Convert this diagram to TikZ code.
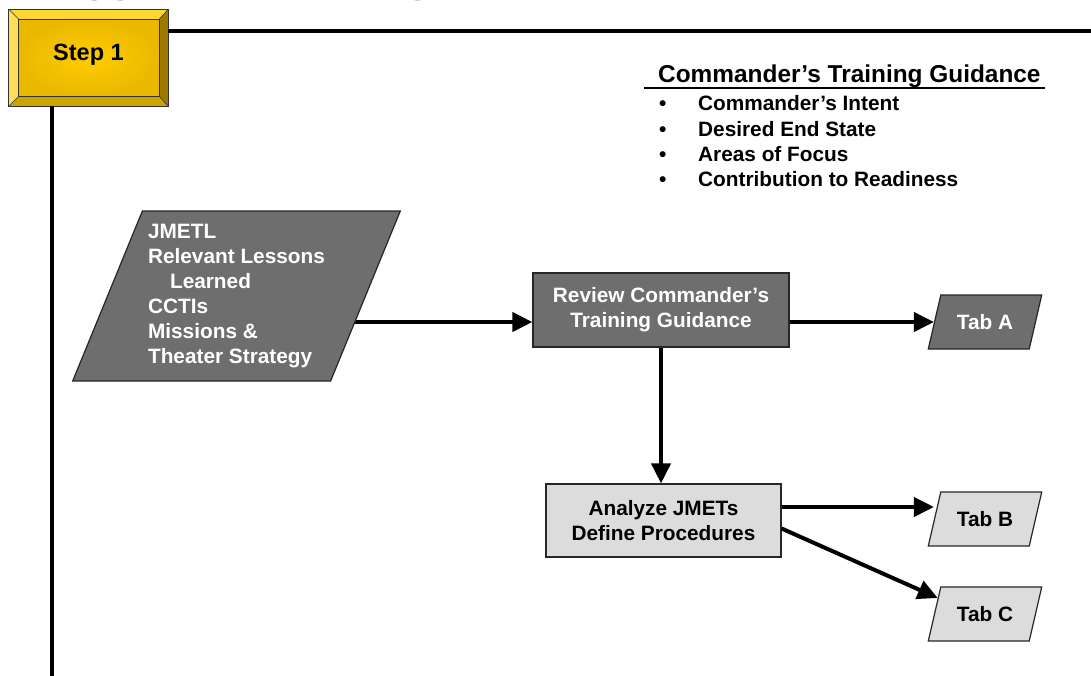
\documentclass[tikz,border=0pt]{standalone}
\usepackage{fontspec}
\setmainfont{Liberation Sans}
\newfontfamily\hdrfont{Liberation Serif}
\usetikzlibrary{shapes.geometric,arrows.meta,calc}
\pgfdeclarelayer{bg}
\pgfsetlayers{bg,main}

\definecolor{darkfill}{HTML}{6E6E6E}
\definecolor{lightfill}{HTML}{DCDCDC}
\definecolor{bevtop}{HTML}{FFD735}
\definecolor{bevleft}{HTML}{FFDF5A}
\definecolor{bevright}{HTML}{9C7A00}
\definecolor{bevbottom}{HTML}{CDA300}
\definecolor{facein}{HTML}{FFCC00}
\definecolor{faceout}{HTML}{EBB800}

\begin{document}
\begin{tikzpicture}[x=1pt,y=-1pt,
  txt/.style={font=\bfseries\fontsize{20.8}{25}\selectfont},
  procbox/.style={rectangle, draw=black!85, line width=1.2pt, inner sep=0pt,
    align=center, txt},
  databox/.style={trapezium, trapezium stretches=true, draw=black!85,
    line width=1.2pt, inner sep=0pt, txt},
  tabbox/.style={databox, minimum width=114pt, minimum height=54pt,
    trapezium left angle=62.5, trapezium right angle=117.5},
  flow/.style={line width=4pt, -{Triangle[length=20pt,width=19pt]}},
  rule/.style={line width=4pt}]

\useasboundingbox (0,0) rectangle (1091,675);
\clip (0,0) rectangle (1091,675);

% heading, cut by the top edge
\node[anchor=base west, inner sep=0pt,
  font=\hdrfont\fontsize{52}{52}\selectfont] (hdr) at (27,-10.5) {Suggested Training};

% Step 1 bevelled button
\node[minimum width=159pt, minimum height=96.5pt, inner sep=0pt] (s1) at (88.5,57.75) {};
\coordinate (i1) at ($(s1.north west)+(10,10)$);
\coordinate (i2) at ($(s1.north east)+(-9,10)$);
\coordinate (i3) at ($(s1.south east)+(-9,-10)$);
\coordinate (i4) at ($(s1.south west)+(10,-10)$);
\fill[bevtop] (s1.north west) -- (s1.north east) -- (i2) -- (i1) -- cycle;
\fill[bevright] (s1.north east) -- (s1.south east) -- (i3) -- (i2) -- cycle;
\fill[bevbottom] (s1.south east) -- (s1.south west) -- (i4) -- (i3) -- cycle;
\fill[bevleft] (s1.south west) -- (s1.north west) -- (i1) -- (i4) -- cycle;
\shade[inner color=facein, outer color=faceout] (i1) rectangle (i3);
\draw[line width=0.8pt, black!80] (s1.north west) rectangle (s1.south east);
\draw[line width=0.8pt, black!80] (i1) rectangle (i3);
\draw[line width=0.6pt, black!80] (s1.north west) -- (i1) (s1.north east) -- (i2)
  (s1.south east) -- (i3) (s1.south west) -- (i4);
\node[font=\bfseries\fontsize{23.5}{28}\selectfont] (s1t) at ($(s1)+(0,-3)$) {Step 1};

% frame lines leaving the button
\coordinate (hrEnd) at (1095,31);
\coordinate (vrEnd) at (51.5,680);
\draw[rule] (s1.east |- hrEnd) -- (hrEnd);
\draw[rule] (s1.south -| vrEnd) -- (vrEnd);

% guidance list
\node[anchor=base west, inner sep=0pt,
  font=\bfseries\fontsize{24.4}{28}\selectfont] (guid) at (658,82.5)
  {Commander’s Training Guidance};
\draw[line width=1.5pt] ($(guid.base west)+(-14,5.5)$) -- ($(guid.base east)+(4,5.5)$);
\node[anchor=north west, inner sep=0pt, align=left,
  font=\bfseries\fontsize{20.8}{25.2}\selectfont] (items) at (659,93) {%
  \begin{tabular}{@{}p{39pt}@{}l@{}}
  • & Commander’s Intent\\
  • & Desired End State\\
  • & Areas of Focus\\
  • & Contribution to Readiness
  \end{tabular}};

% flow nodes
\node[databox, fill=darkfill, text=white, align=left,
  minimum width=329pt, minimum height=170pt,
  trapezium left angle=65.5, trapezium right angle=114.5] (jm) at (236.5,296)
  {JMETL\\Relevant Lessons\\\hspace*{22pt}Learned\\CCTIs\\Missions \&\\Theater Strategy};
\node[procbox, fill=darkfill, text=white, minimum width=256pt, minimum height=74pt]
  (rv) at (661,310) {Review Commander’s\\Training Guidance};
\node[procbox, fill=lightfill, text=black, minimum width=235pt, minimum height=73pt]
  (an) at (663.5,520.5) {Analyze JMETs\\Define Procedures};
\node[tabbox, fill=darkfill, text=white] (ta) at (985,322) {Tab A};
\node[tabbox, fill=lightfill, text=black] (tb) at (985,519) {Tab B};
\node[tabbox, fill=lightfill, text=black] (tc) at (985,614) {Tab C};

% connectors
\coordinate (bRow) at (0,507);
\coordinate (cStart) at ($(an.east)+(0,8)$);
\coordinate (cAim) at ($(tc.center)+(0,5)$);
\begin{pgfonlayer}{bg}
\draw[flow] (jm.center |- ta.west) -- (rv.west |- ta.west);
\end{pgfonlayer}
\draw[flow] (rv.east |- ta.west) -- (ta.west);
\draw[flow] (rv.south) -- (rv.south |- an.north);
\draw[flow] (an.east |- bRow) -- (tb.west |- bRow);
\draw[flow] (cStart) --
  (intersection of cStart--cAim and tc.top left corner--tc.bottom left corner);
\end{tikzpicture}
\end{document}
